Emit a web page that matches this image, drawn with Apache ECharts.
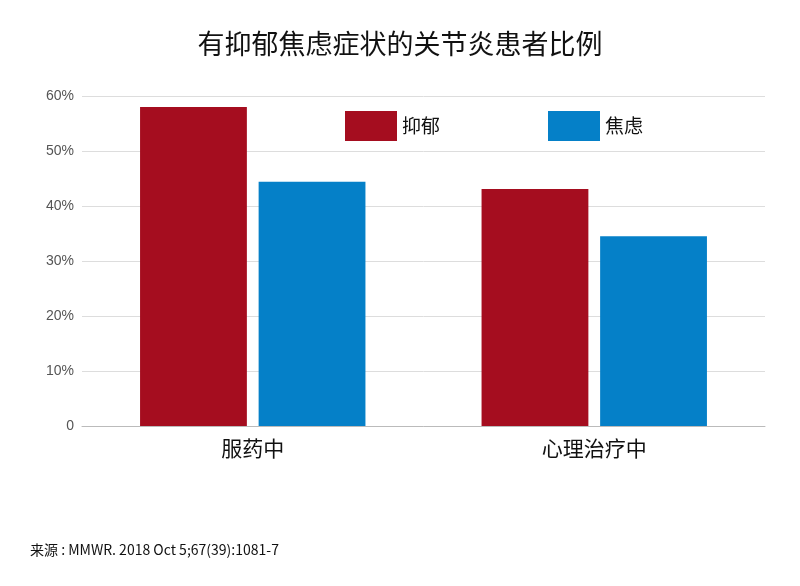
<!DOCTYPE html>
<html><head><meta charset="utf-8">
<script src="https://cdn.jsdelivr.net/npm/echarts@6/dist/echarts.min.js"></script>
<style>html,body{margin:0;padding:0;background:#fff}#c{width:800px;height:586px}</style>
</head><body><div id="c"></div>
<script>
const categories = ['服药中', '心理治疗中'];
const depression = [58, 43.1];
const anxiety = [44.4, 34.5];
const yTicks = [0, 10, 20, 30, 40, 50, 60];
const chart = echarts.init(document.getElementById('c'));
chart.setOption({
  animation: false,
  title: {text: '有抑郁焦虑症状的关节炎患者比例', left: 'center', top: 25,
    textStyle: {fontFamily: 'Noto Sans CJK SC', fontSize: 27, fontWeight: 'normal', color: '#111'}},
  legend: {top: 106, left: 340, itemWidth: 52, itemHeight: 30, itemGap: 108, icon: 'rect',
    textStyle: {fontFamily: 'Noto Sans CJK SC', fontSize: 19, color: '#111'},
    data: ['抑郁', '焦虑']},
  grid: {left: 82, right: 35, top: 96, bottom: 160},
  xAxis: {type: 'category', data: categories,
    axisLine: {lineStyle: {color: '#bbb'}}, axisTick: {show: false},
    axisLabel: {fontFamily: 'Noto Sans CJK SC', fontSize: 21, color: '#111', margin: 12}},
  yAxis: {type: 'value', min: 0, max: 60, interval: 10,
    axisLabel: {formatter: v => v === 0 ? '0' : v + '%', fontFamily: 'Liberation Sans', fontSize: 14, color: '#555'},
    splitLine: {lineStyle: {color: '#ddd'}}},
  series: [
    {name: '抑郁', type: 'bar', data: depression, barGap: '11%', barCategoryGap: '34%', itemStyle: {color: '#a50d1f'}},
    {name: '焦虑', type: 'bar', data: anxiety, itemStyle: {color: '#0580c8'}}
  ],
  graphic: [{type: 'text', left: 30, top: 543,
    style: {text: '来源 : MMWR. 2018 Oct 5;67(39):1081-7', fontFamily: 'Noto Sans CJK SC', fontSize: 14, fill: '#111'}}]
});
</script></body></html>
